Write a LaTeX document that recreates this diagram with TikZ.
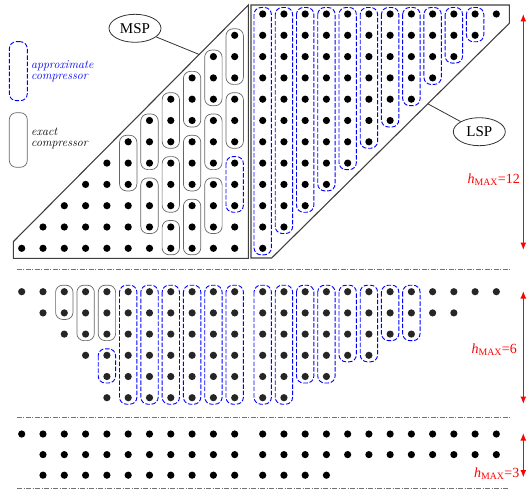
\documentclass[tikz,border=0pt]{standalone}
\usepackage{fontspec}
\newfontfamily\timesfont{Liberation Serif}
\usetikzlibrary{calc,arrows.meta,shapes.geometric}

% column and row positions (in px of the layout)
\pgfmathdeclarefunction{colx}{1}{\pgfmathparse{(#1)<11 ? 21.7+21.3*(#1) : 262.7+21.24*((#1)-11)}}
\pgfmathdeclarefunction{toprow}{1}{\pgfmathparse{14+21.3*(#1)}}
\pgfmathdeclarefunction{midrow}{1}{\pgfmathparse{291.7+21.2*(#1)}}
\pgfmathdeclarefunction{botrow}{1}{\pgfmathparse{434+20.6*(#1)}}

\tikzset{
  exactcmp/.style={draw=black!60, line width=0.7pt, rounded corners=7pt},
  approxcmp/.style={draw=blue, line width=0.9pt, rounded corners=7pt, dash pattern=on 4.5pt off 1.8pt},
  outline/.style={draw=black!75, line width=1.1pt},
  sepline/.style={draw=black!55, line width=0.8pt, dash pattern=on 5pt off 1.5pt on 1pt off 1.5pt},
  harrow/.style={red, line width=1.3pt, {Latex[length=7.5pt,width=6pt]}-{Latex[length=7.5pt,width=6pt]}},
  hlabel/.style={red, anchor=east, inner sep=0pt, font=\timesfont\fontsize{14}{14}\selectfont},
  tag/.style={ellipse, draw=black!80, line width=0.8pt, inner sep=0pt, minimum width=52pt, minimum height=28pt, font=\timesfont\fontsize{15}{15}\selectfont},
  legtext/.style={anchor=west, align=left, inner sep=0pt, font=\fontsize{12}{11}\selectfont\itshape}
}

% compressor box: style, column, top y, bottom y
\newcommand{\cmp}[4]{\draw[#1] ({colx(#2)-8.7},{#3-6.5}) rectangle ({colx(#2)+8.7},{#4+6.5});}

\begin{document}
\begin{tikzpicture}[x=1pt, y=-1pt]
  \useasboundingbox (0,0) rectangle (529,489);

  % ---- h_MAX = 12 ----
  \draw[outline] (13.3,241.7) coordinate (mspL) -- (248.3,5) coordinate (mspT)
      -- (248.3,258.3) -- (13.3,258.3) -- cycle;
  \draw[outline] (251,5) -- (509.3,5) -- (509.3,23.3) coordinate (lspR)
      -- (271.7,258) coordinate (lspB) -- (251,258) -- cycle;

  \foreach \i in {0,...,10}{
    \pgfmathtruncatemacro{\rs}{11-\i}
    \foreach \r in {\rs,...,11} \fill ({colx(\i)},{toprow(\r)}) circle (3.6);
  }
  \foreach \j in {0,...,11}{
    \pgfmathtruncatemacro{\re}{11-\j}
    \foreach \r in {0,...,\re} \fill ({colx(\j+11)},{toprow(\r)}) circle (3.6);
  }
  \foreach \c/\a/\b/\s in {10/1/3/exactcmp, 10/4/6/exactcmp, 10/7/9/approxcmp,
      9/2/4/exactcmp, 9/5/7/exactcmp, 9/8/10/exactcmp,
      8/3/5/exactcmp, 8/6/8/exactcmp, 8/9/11/exactcmp,
      7/4/6/exactcmp, 7/7/9/exactcmp, 7/10/11/exactcmp,
      6/5/7/exactcmp, 6/8/10/exactcmp, 5/6/8/exactcmp}
    \cmp{\s}{\c}{toprow(\a)}{toprow(\b)};
  \foreach \j in {0,...,10}
    \cmp{approxcmp}{\j+11}{toprow(0)}{toprow(11-\j)};

  \node[tag] (msp) at (135,28.3) {MSP};
  \node[tag] (lsp) at (479.3,131.7) {LSP};
  \coordinate (mspend) at ($(mspL)!0.791!(mspT)$);
  \coordinate (lspend) at ($(lspR)!0.343!(lspB)$);
  \draw[black!80, line width=0.8pt] (msp) -- (mspend);
  \draw[black!80, line width=0.8pt] (lsp) -- (lspend);

  % legend
  \node[approxcmp, minimum width=18pt, minimum height=59pt, inner sep=0pt] (legapprox) at (18.3,71.2) {};
  \node[exactcmp, minimum width=18pt, minimum height=54.6pt, inner sep=0pt] (legexact) at (18.3,140) {};
  \node[legtext, blue] (legapproxtxt) at (31,71) {approximate\\compressor};
  \node[legtext] (legexacttxt) at (31,138.5) {exact\\compressor};

  \coordinate (a12t) at (523.3,14);
  \coordinate (a12b) at (523.3,250);
  \draw[harrow] (a12t) -- (a12b);
  \node[hlabel] (h12) at (520,180) {\textit{h}\textsubscript{MAX}=12};

  \draw[sepline] (16.7,269) coordinate (sep1l) -- (510,269) coordinate (sep1r);

  % ---- h_MAX = 6 ----
  \foreach \h [count=\i from 0] in {1,2,3,4,6,6,6,6,6,6,6,6,6,5,5,4,4,3,3,2,2,1,1}{
    \pgfmathtruncatemacro{\re}{\h-1}
    \foreach \r in {0,...,\re} \fill[black!85] ({colx(\i)},{midrow(\r)}) circle (3.6);
  }
  \foreach \c/\a/\b/\s in {2/0/1/exactcmp, 3/0/2/exactcmp, 4/0/2/exactcmp, 4/3/4/approxcmp,
      5/0/5/approxcmp, 6/0/5/approxcmp, 7/0/5/approxcmp, 8/0/5/approxcmp,
      9/0/5/approxcmp, 10/0/5/approxcmp, 11/0/5/approxcmp, 12/0/5/approxcmp,
      13/0/4/approxcmp, 14/0/4/approxcmp, 15/0/3/approxcmp, 16/0/3/approxcmp,
      17/0/2/approxcmp, 18/0/2/approxcmp}
    \cmp{\s}{\c}{midrow(\a)}{midrow(\b)};

  \coordinate (a6t) at (523.3,291);
  \coordinate (a6b) at (523.3,404);
  \draw[harrow] (a6t) -- (a6b);
  \node[hlabel] (h6) at (517,350) {\textit{h}\textsubscript{MAX}=6};

  \draw[sepline] (16.7,417.5) coordinate (sep2l) -- (509.3,417.5) coordinate (sep2r);

  % ---- h_MAX = 3 ----
  \foreach \i in {0,...,22} \fill ({colx(\i)},{botrow(0)}) circle (3.6);
  \foreach \i in {1,...,22} \fill ({colx(\i)},{botrow(1)}) circle (3.6);
  \foreach \i in {1,...,14} \fill ({colx(\i)},{botrow(2)}) circle (3.6);

  \coordinate (a3t) at (523.3,433);
  \coordinate (a3b) at (523.3,477.5);
  \draw[harrow] (a3t) -- (a3b);
  \node[hlabel] (h3) at (519.5,474) {\textit{h}\textsubscript{MAX}=3};

  \draw[sepline] (17,488) coordinate (sep3l) -- (509.3,488) coordinate (sep3r);
\end{tikzpicture}
\end{document}
